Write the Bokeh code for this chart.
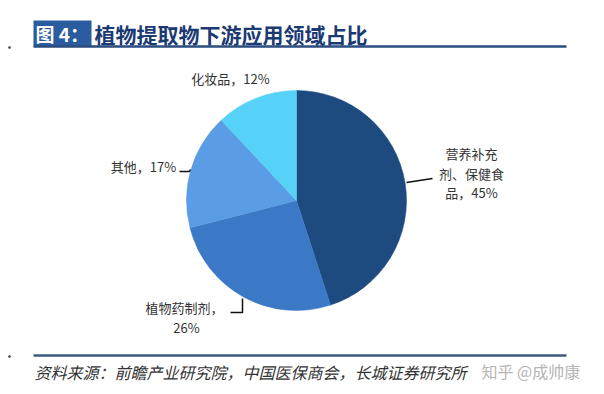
from bokeh.plotting import figure
from bokeh.models import Range1d, ColumnDataSource
from bokeh.embed import file_html
from bokeh.resources import INLINE
from bokeh.core.properties import value
import numpy as np

# ---- data ----
categories = ["营养补充剂、保健食品", "植物药制剂", "其他", "化妆品"]
shares = [45, 26, 17, 12]
label_lines = [["营养补充", "剂、保健食", "品，45%"],
               ["植物药制剂，", "26%"],
               ["其他，17%"],
               ["化妆品，12%"]]
colors = ["#1D4A7F", "#3B78C6", "#5B9DE4", "#56D2F9"]
title_tag = "图 4："
title_text = "植物提取物下游应用领域占比"
source_text = "资料来源：前瞻产业研究院，中国医保商会，长城证券研究所"
watermark = "知乎 @成帅康"

FONT = "Noto Sans CJK SC"
PAGE_H = 394
W, H = 600, 388


def Y(y):
    return PAGE_H - y


p = figure(width=W, height=H, x_range=Range1d(0, W), y_range=Range1d(PAGE_H - H, PAGE_H),
           output_backend="svg", toolbar_location=None, min_border=0,
           x_axis_location=None, y_axis_location=None)
p.grid.visible = False
p.outline_line_color = None
p.background_fill_color = "white"
p.border_fill_color = "white"

# ---- pie ----
cx, cy, r = 296, Y(200), 110
cum = np.cumsum([0] + shares) / sum(shares)
start = np.pi / 2 - 2 * np.pi * cum[:-1]
end = np.pi / 2 - 2 * np.pi * cum[1:]
src = ColumnDataSource(dict(start=start, end=end, color=colors, cat=categories, share=shares))
p.wedge(x=cx, y=cy, radius=r, start_angle="start", end_angle="end", direction="clock",
        fill_color="color", line_color="color", line_width=0.5, source=src)

# ---- labels ----
label_pos = [(471, 153), (184, 307), (143, 166), (230, 78)]
line_gap = 19.5
lx, ly, lt = [], [], []
for lines, (x0, y0) in zip(label_lines, label_pos):
    for i, t in enumerate(lines):
        lx.append(x0 + (2 if t.endswith("%") and len(lines) == 2 else 0))
        ly.append(Y(y0 + i * line_gap))
        lt.append(t)
p.text(x=lx, y=ly, text=lt, text_align="center", text_baseline="middle",
       text_font=value(FONT), text_font_size="13px", text_color="#333333")

# leader lines
leaders_x = [[406, 432], [230, 242, 242], [179, 189, 190]]
leaders_y = [[Y(182), Y(178)], [Y(312), Y(312), Y(298)], [Y(171), Y(171), Y(169)]]
p.multi_line(xs=leaders_x, ys=leaders_y, line_color="#111111", line_width=1.5)

# ---- title ----
p.quad(left=33, right=91, top=Y(20), bottom=Y(46), fill_color="#2B5C9F", line_color=None)
p.text(x=[35], y=[Y(33)], text=[title_tag], text_align="left", text_baseline="middle",
       text_font=value(FONT), text_font_size="19px", text_font_style="bold", text_color="white")
p.text(x=[94], y=[Y(33)], text=[title_text], text_align="left", text_baseline="middle",
       text_font=value(FONT), text_font_size="21px", text_font_style="bold", text_color="#1B3A73")
p.line(x=[33, 566], y=[Y(46), Y(46)], line_color="#2B4C7E", line_width=2.5)

# ---- footer ----
p.line(x=[33, 566], y=[Y(355), Y(355)], line_color="#3A5A80", line_width=2.5)
p.text(x=[34], y=[Y(371)], text=[source_text], text_align="left", text_baseline="middle",
       text_font=value(FONT), text_font_size="16px", text_font_style="italic", text_color="#333333")
p.text(x=[481], y=[Y(370)], text=[watermark], text_align="left", text_baseline="middle",
       text_font=value(FONT), text_font_size="16px", text_color="#b5b5b5")

p.scatter(x=[9, 9], y=[Y(47), Y(356)], size=2, color="#555555")

open("out.html", "w").write(file_html(p, INLINE))
